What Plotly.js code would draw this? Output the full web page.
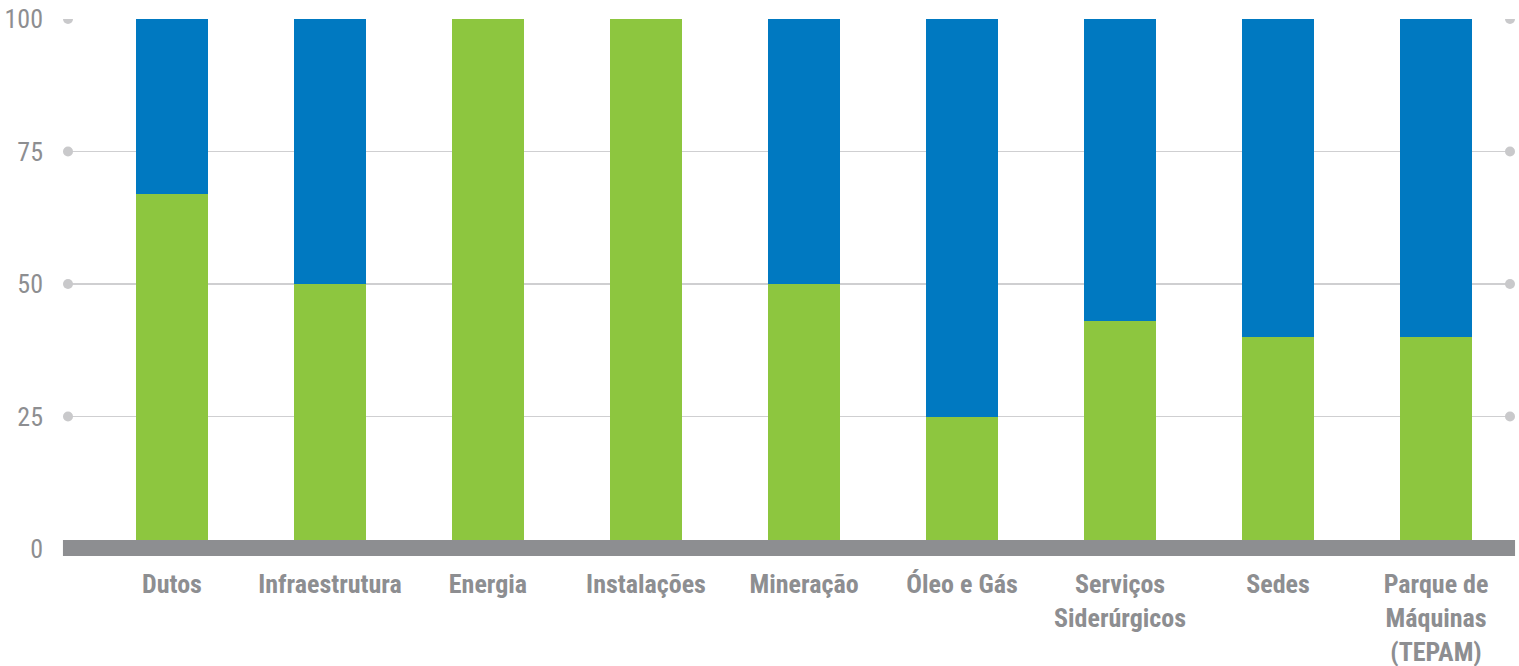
<!DOCTYPE html>
<html>
<head>
<meta charset="utf-8">
<script src="https://cdn.plot.ly/plotly-3.0.1.min.js"></script>
<style>html,body{margin:0;padding:0;background:#fff;}#chart{width:1519px;height:666px;}</style>
</head>
<body>
<div id="chart"></div>
<script>
const categories = ["Dutos", "Infraestrutura", "Energia", "Instalações", "Mineração", "Óleo e Gás", "Serviços<br>Siderúrgicos", "Sedes", "Parque de<br>Máquinas<br>(TEPAM)"];
const greenValues = [67, 50, 100, 100, 50, 25, 43, 40, 40];
const blueValues = [33, 50, 0, 0, 50, 75, 57, 60, 60];
const yTicks = [0, 25, 50, 75, 100];

const FONT = '"Roboto Condensed", "Liberation Sans Narrow", "DejaVu Sans Condensed", sans-serif';
const GRAY = '#8d8e91';

const traces = [
  {type: 'bar', x: categories, y: greenValues, marker: {color: '#8dc63f'}, hoverinfo: 'skip'},
  {type: 'bar', x: categories, y: blueValues, marker: {color: '#0079c1'}, hoverinfo: 'skip'}
];

const shapes = [];
yTicks.forEach(t => {
  if (t === 0) return;
  shapes.push({type: 'circle', xref: 'paper', yref: 'y', xsizemode: 'pixel', ysizemode: 'pixel',
    xanchor: 0, yanchor: t, x0: -5, x1: 5, y0: -5, y1: 5, fillcolor: '#c9c9cb', line: {width: 0}, layer: 'above'});
  shapes.push({type: 'circle', xref: 'paper', yref: 'y', xsizemode: 'pixel', ysizemode: 'pixel',
    xanchor: 1, yanchor: t, x0: -5, x1: 5, y0: -5, y1: 5, fillcolor: '#c9c9cb', line: {width: 0}, layer: 'above'});
});
shapes.push({type: 'rect', xref: 'paper', yref: 'paper', x0: -0.0035, x1: 1.0035, y0: -0.0132, y1: 0.017,
  fillcolor: GRAY, line: {width: 0}, layer: 'above'});

const layout = {
  width: 1519, height: 666,
  margin: {l: 68, r: 9, t: 19, b: 117, pad: 0},
  paper_bgcolor: '#fff', plot_bgcolor: '#fff',
  barmode: 'stack',
  bargap: 0.544,
  showlegend: false,
  font: {family: FONT, color: GRAY},
  xaxis: {
    type: 'category',
    range: [-0.658, 8.468],
    showgrid: false, zeroline: false, showline: false,
    ticks: '', ticklabelstandoff: 17,
    tickfont: {family: FONT, size: 26, color: GRAY, weight: 'bold'},
    fixedrange: true
  },
  yaxis: {
    range: [0, 100],
    tickvals: yTicks,
    ticktext: yTicks.map(String),
    showgrid: true, gridcolor: '#cfcfd1', gridwidth: 1.5,
    zeroline: false, showline: false,
    ticks: '', ticklabelstandoff: 24,
    tickfont: {family: FONT, size: 26, color: GRAY},
    fixedrange: true
  },
  shapes: shapes
};

Plotly.newPlot('chart', traces, layout, {displayModeBar: false, staticPlot: true});
</script>
</body>
</html>
